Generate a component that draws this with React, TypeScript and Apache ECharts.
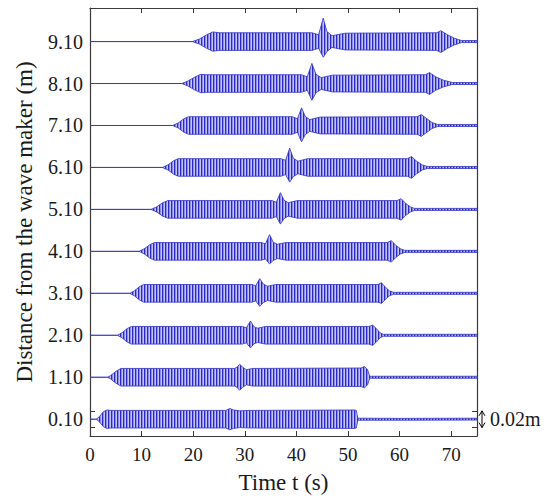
import React, { useEffect, useRef } from "react";
import * as echarts from "echarts";

// ---- axes ----
const X_MIN = 0;
const X_MAX = 75;
const Y_MIN = -0.3;
const Y_MAX = 9.9;
const X_TICK_LABELS = [0, 10, 20, 30, 40, 50, 60, 70];
const X_TICK_MARKS = [10, 20, 30, 40, 50, 60, 70];

// gauge distances from the wave maker (m)
const GAUGE_POSITIONS = [0.1, 1.1, 2.1, 3.1, 4.1, 5.1, 6.1, 7.1, 8.1, 9.1];

// vertical exaggeration: 1 mm of surface elevation drawn as 0.02 m on the distance axis
const MM_TO_UNITS = 0.02;
// scale bar half-height (mm) -> 0.02 m total
const SCALE_BAR_HALF_MM = 10;

// Wave envelopes: [time s, crest mm, trough mm]
const ENV_0_10 = [
  [0, 0, 0], [1.2, 0, 0], [1.8, 3, 3], [2.6, 9, 9], [3.3, 11, 11], [4, 10.5, 10.5],
  [25, 10.5, 10.5], [26.3, 10.5, 10.5], [27.1, 12.8, 12.5], [27.8, 11, 11], [29, 10, 10],
  [31, 10.5, 10.5], [51.2, 11, 11], [51.6, 10.5, 10.5], [51.9, 1.2, 1.2], [60, 1, 1.2], [75, 1.2, 1],
];
const ENV_1_10 = [
  [0, 0, 0], [3.4, 0, 0], [4, 2, 2], [5, 7, 7], [6, 10.5, 10.5], [28, 10.5, 10.5],
  [28.5, 12, 12], [29, 15.5, 15.5], [29.6, 12, 12], [30.3, 9, 9], [31.5, 10.5, 10.5],
  [52.5, 11, 11], [53.2, 12.8, 12.5], [53.8, 9, 9], [54.2, 1.2, 1.2], [60, 1.2, 1.2], [75, 1.2, 1.2],
];
const ENV_2_10 = [
  [0, 0, 0], [5.3, 0, 0], [6.2, 3, 3], [7.2, 8, 8], [8, 10.5, 10.5], [29.5, 10.5, 10.5],
  [30.3, 9, 9], [31.1, 17, 15], [31.8, 10, 10], [32.5, 8.5, 8.5], [34, 10.5, 10.5],
  [54, 10.5, 10.5], [54.8, 12, 12], [55.5, 8, 8], [56.2, 3, 3], [56.8, 1.2, 1.2], [75, 1.2, 1.2],
];
const ENV_3_10 = [
  [0, 0, 0], [7.7, 0, 0], [8.6, 3, 3], [9.6, 8, 8], [10.4, 10.5, 10.5], [31.4, 10.5, 10.5],
  [32.1, 9, 9], [32.9, 17.5, 15.5], [33.6, 11, 11], [34.4, 8.5, 8.5], [36, 10.5, 10.5],
  [55.8, 10.5, 10.5], [56.5, 12.5, 12], [57.3, 7, 7], [58, 3, 3], [58.8, 1.2, 1.2], [75, 1.2, 1.2],
];
const ENV_4_10 = [
  [0, 0, 0], [9.5, 0, 0], [10.5, 3, 3], [11.6, 8, 8], [12.5, 10.5, 10.5], [33.2, 10.5, 10.5],
  [34, 9, 9], [34.8, 20, 15], [35.5, 11, 11], [36.3, 8.5, 8.5], [38, 10.5, 10.5],
  [57.6, 10.5, 10.5], [58.4, 12.8, 12.8], [59.3, 7, 7], [60.2, 3, 3], [61, 1.2, 1.2], [75, 1.2, 1.2],
];
const ENV_5_10 = [
  [0, 0, 0], [11.8, 0, 0], [12.9, 3, 3], [14.1, 8, 8], [15.1, 10.5, 10.5], [35.3, 10.5, 10.5],
  [36.1, 8.5, 8.5], [36.9, 20, 17.5], [37.6, 11, 11], [38.4, 8, 8], [40.2, 10.5, 10.5],
  [59.5, 10.5, 10.5], [60.3, 12.8, 12.8], [61.2, 7, 7], [62.1, 3, 3], [62.9, 1.2, 1.2], [75, 1.2, 1.2],
];
const ENV_6_10 = [
  [0, 0, 0], [14, 0, 0], [15.1, 3, 3], [16.2, 8, 8], [17.1, 10.5, 10.5], [37, 10.5, 10.5],
  [37.9, 8.5, 8.5], [38.7, 23, 17.5], [39.4, 11, 11], [40.3, 7.5, 7.5], [42.2, 10.5, 10.5],
  [61.5, 10.5, 10.5], [62.3, 13, 13], [63.3, 7.5, 7.5], [64.4, 3, 3], [65.4, 1.2, 1.2], [75, 1.2, 1.2],
];
const ENV_7_10 = [
  [0, 0, 0], [16, 0, 0], [17.1, 3, 3], [18.2, 8, 8], [19.1, 10.5, 10.5], [39.2, 10.5, 10.5],
  [40.2, 8, 8], [41, 21, 19.5], [41.7, 11, 11], [42.6, 7, 7], [44.6, 10, 10],
  [63.4, 10.5, 10.5], [64.2, 13, 13], [65.3, 8, 8], [66.3, 3.5, 3.5], [67.4, 1.2, 1.2], [75, 1.2, 1.2],
];
const ENV_8_10 = [
  [0, 0, 0], [17.8, 0, 0], [19, 3, 3], [20.4, 8, 8], [21.5, 11, 11], [22.5, 10.5, 10.5],
  [41, 10.5, 10.5], [42.1, 8, 8], [43, 24, 20], [43.8, 11, 11], [44.8, 7, 7], [47, 10, 10],
  [65, 10.5, 10.5], [65.8, 13, 13], [67, 8, 8], [68.5, 4, 4], [70.2, 1.2, 1.2], [75, 1.2, 1.2],
];
const ENV_9_10 = [
  [0, 0, 0], [19.8, 0, 0], [21.2, 3, 3], [22.6, 8, 8], [23.8, 11.5, 11.5], [25, 10.5, 10.5],
  [43, 10.5, 10.5], [44.3, 8, 8], [45.2, 28, 18.7], [45.9, 12, 12], [46.9, 7, 7], [49.5, 10, 10],
  [67.2, 10.5, 10.5], [68, 13, 13], [69.3, 8, 8], [70.6, 4, 4], [72, 1.2, 1.2], [75, 1.2, 1.2],
];
const ENVELOPES = [
  ENV_0_10, ENV_1_10, ENV_2_10, ENV_3_10, ENV_4_10,
  ENV_5_10, ENV_6_10, ENV_7_10, ENV_8_10, ENV_9_10,
];

const X_TITLE = "Time t (s)";
const Y_TITLE = "Distance from the wave maker (m)";
const SCALE_TEXT = "0.02m";

const FONT = "'Liberation Serif', 'DejaVu Serif', serif";
const AXIS_COLOR = "#3a3a3a";
const TEXT_COLOR = "#1a1a1a";
const FILL = "#8787ee";
const STROKE = "#3030c4";
const STRIPE_COLORS = ["#2a2ac0", "#8a8af0", "#c4c4fa"];

function makeStripePattern(): any {
  try {
    const c = document.createElement("canvas");
    c.width = STRIPE_COLORS.length;
    c.height = 2;
    const ctx = c.getContext("2d");
    if (!ctx) return FILL;
    STRIPE_COLORS.forEach((col, i) => {
      ctx.fillStyle = col;
      ctx.fillRect(i, 0, 1, 2);
    });
    return { image: c, repeat: "repeat" };
  } catch (e) {
    return FILL;
  }
}

export default function App() {
  const ref = useRef<HTMLDivElement>(null);

  useEffect(() => {
    if (!ref.current) return;
    const chart = echarts.init(ref.current, undefined, { renderer: "svg" });
    const barLow = GAUGE_POSITIONS[0] - SCALE_BAR_HALF_MM * MM_TO_UNITS;
    const barHigh = GAUGE_POSITIONS[0] + SCALE_BAR_HALF_MM * MM_TO_UNITS;
    const pattern = makeStripePattern();

    const xBase = {
      type: "value",
      min: X_MIN,
      max: X_MAX,
      splitLine: { show: false },
      axisLine: { show: true, onZero: false, lineStyle: { color: AXIS_COLOR, width: 1.2 } },
    };
    const yBase = {
      type: "value",
      min: Y_MIN,
      max: Y_MAX,
      splitLine: { show: false },
      axisLine: { show: true, onZero: false, lineStyle: { color: AXIS_COLOR, width: 1.2 } },
      axisTick: {
        show: true,
        inside: true,
        length: 5,
        customValues: [barLow, barHigh],
        lineStyle: { color: AXIS_COLOR },
      },
    };

    chart.setOption({
      animation: false,
      backgroundColor: "#ffffff",
      grid: { left: 90, top: 8, width: 387, height: 436, containLabel: false },
      xAxis: [
        {
          ...xBase,
          position: "bottom",
          name: X_TITLE,
          nameLocation: "middle",
          nameGap: 35,
          nameTextStyle: { fontFamily: FONT, fontSize: 23, color: TEXT_COLOR },
          axisTick: {
            show: true,
            inside: true,
            length: 5,
            customValues: X_TICK_MARKS,
            lineStyle: { color: AXIS_COLOR },
          },
          axisLabel: {
            customValues: X_TICK_LABELS,
            fontFamily: FONT,
            fontSize: 19,
            color: TEXT_COLOR,
            margin: 9,
          },
        },
        {
          ...xBase,
          position: "top",
          axisTick: {
            show: true,
            inside: true,
            length: 5,
            customValues: X_TICK_MARKS,
            lineStyle: { color: AXIS_COLOR },
          },
          axisLabel: { show: false },
        },
      ],
      yAxis: [
        {
          ...yBase,
          position: "left",
          name: Y_TITLE,
          nameLocation: "middle",
          nameGap: 54,
          nameRotate: 90,
          nameTextStyle: { fontFamily: FONT, fontSize: 23, color: TEXT_COLOR },
          axisLabel: {
            customValues: GAUGE_POSITIONS,
            formatter: (v: number) => v.toFixed(2),
            fontFamily: FONT,
            fontSize: 20,
            color: TEXT_COLOR,
            margin: 7,
          },
        },
        {
          ...yBase,
          position: "right",
          axisLabel: { show: false },
        },
      ],
      series: [
        {
          type: "custom",
          xAxisIndex: 0,
          yAxisIndex: 0,
          clip: true,
          encode: { x: 0, y: 1 },
          data: GAUGE_POSITIONS.map((p) => [X_MIN, p]),
          renderItem: (params: any, api: any) => {
            const i = params.dataIndex;
            const off = GAUGE_POSITIONS[i];
            const env = ENVELOPES[i];
            const upper = env.map((e) => api.coord([e[0], off + e[1] * MM_TO_UNITS]));
            const lower = env
              .slice()
              .reverse()
              .map((e) => api.coord([e[0], off - e[2] * MM_TO_UNITS]));
            return {
              type: "polygon",
              shape: { points: upper.concat(lower) },
              style: { fill: pattern, stroke: STROKE, lineWidth: 0.8 },
            };
          },
        },
      ],
    });

    const xRight = chart.convertToPixel({ xAxisIndex: 0 }, X_MAX) as number;
    const yTop = chart.convertToPixel({ yAxisIndex: 0 }, barHigh) as number;
    const yBot = chart.convertToPixel({ yAxisIndex: 0 }, barLow) as number;
    const ax = xRight + 5;
    chart.setOption({
      graphic: [
        {
          type: "polyline",
          shape: { points: [[ax, yTop], [ax, yBot]] },
          style: { stroke: "#000", lineWidth: 1, fill: "none" },
        },
        {
          type: "polyline",
          shape: { points: [[ax - 3, yTop + 5], [ax, yTop], [ax + 3, yTop + 5]] },
          style: { stroke: "#000", lineWidth: 1, fill: "none" },
        },
        {
          type: "polyline",
          shape: { points: [[ax - 3, yBot - 5], [ax, yBot], [ax + 3, yBot - 5]] },
          style: { stroke: "#000", lineWidth: 1, fill: "none" },
        },
        {
          type: "text",
          x: ax + 8,
          y: (yTop + yBot) / 2,
          style: {
            text: SCALE_TEXT,
            fontFamily: FONT,
            fontSize: 20,
            fill: TEXT_COLOR,
            verticalAlign: "middle",
          },
        },
      ],
    });

    return () => chart.dispose();
  }, []);

  return (
    <div
      ref={ref}
      style={{ position: "fixed", left: 0, top: 0, width: 548, height: 499, background: "#fff" }}
    />
  );
}
